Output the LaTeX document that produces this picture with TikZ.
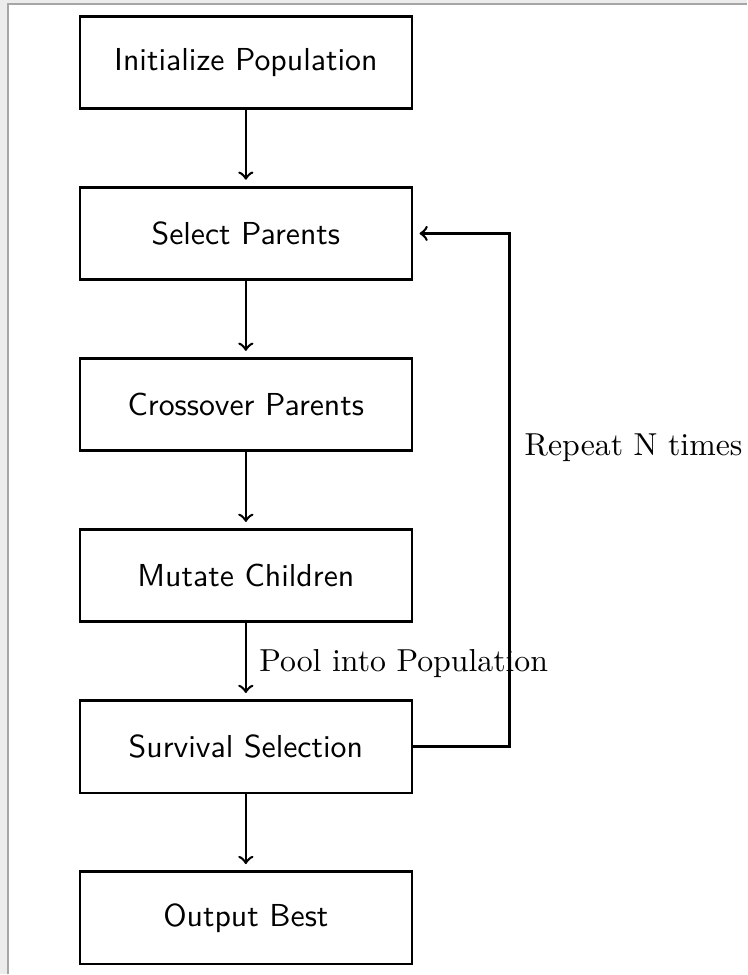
\documentclass[tikz,border=0pt]{standalone}
\usetikzlibrary{calc}
\begin{document}
\begin{tikzpicture}[x=0.3145pt, y=-0.3145pt,
  stepbox/.style={draw, thick, rectangle, minimum width=104.5pt, minimum height=29pt, font=\sffamily, inner sep=0pt},
  flow/.style={->, thick, shorten >=2pt}]
  % frame
  \fill[gray!15] (0,0) rectangle (747,975);
  \fill[white] (8,4) rectangle (747,975);
  \draw[gray!70, line width=0.4pt] (8,975) -- (8,4) -- (747,4);
  \useasboundingbox (0,0) rectangle (747,975);
  % nodes
  \node[stepbox] (init) at (246,62.4) {Initialize Population};
  \node[stepbox] (sel) at (246,233.6) {Select Parents};
  \node[stepbox] (cross) at (246,404.8) {Crossover Parents};
  \node[stepbox] (mut) at (246,576) {Mutate Children};
  \node[stepbox] (surv) at (246,747.2) {Survival Selection};
  \node[stepbox] (out) at (246,918.4) {Output Best};
  \coordinate (c1) at (510,747.2);
  \coordinate (c2) at (510,233.6);
  % connectors
  \draw[flow] (init) -- (sel);
  \draw[flow] (sel) -- (cross);
  \draw[flow] (cross) -- (mut);
  \draw[flow] (mut) -- node[right, xshift=0.5pt, yshift=-0.6pt] {Pool into Population} (surv);
  \draw[flow] (surv) -- (out);
  \draw[flow] (surv.east) -- (c1) -- node[right, pos=0.582, xshift=1pt] {Repeat N times} (c2) -- (sel.east);
\end{tikzpicture}
\end{document}
